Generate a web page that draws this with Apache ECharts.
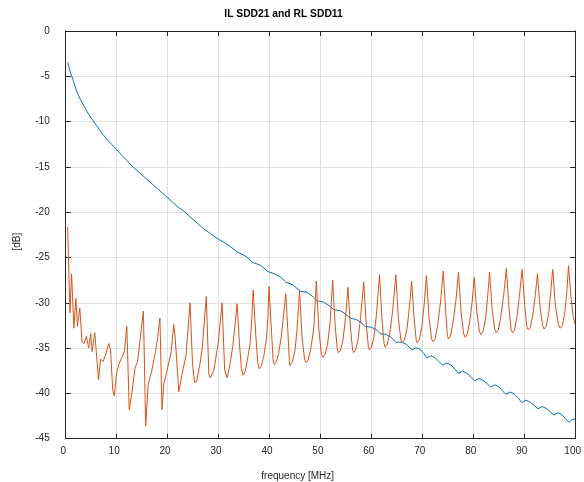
<!DOCTYPE html>
<html>
<head>
<meta charset="utf-8">
<script src="https://cdn.jsdelivr.net/npm/echarts@6/dist/echarts.min.js"></script>
<style>
html,body{margin:0;padding:0;background:#fff;}
#chart{width:584px;height:482px;}
</style>
</head>
<body>
<div id="chart"></div>
<script>
var chartTitle = 'IL SDD21 and RL SDD11';
var xAxisName = 'frequency [MHz]';
var yAxisName = '[dB]';
var xTicks = [0, 10, 20, 30, 40, 50, 60, 70, 80, 90, 100];
var yTicks = [0, -5, -10, -15, -20, -25, -30, -35, -40, -45];

// IL SDD21 (blue)
var ilFreq = [0.4,0.6,0.8,1.0,1.2,1.5,2.0,2.5,3.0,3.5,4.0,4.5,5.0,6.0,7.0,8.0,9.0,10,11,12,13,14,15,16,17,18,19,20,21,22,23,24,25,26,27,28,29,30,
  31.0,31.85,33.79,34.43,35.4,36.7,38.3,39.6,40.9,42.2,43.2,44.5,46.1,47.4,48.7,49.3,50.6,51.9,52.6,53.9,54.8,55.8,57.1,58.1,58.7,60.0,61.0,61.7,62.9,63.9,64.8,65.8,66.8,
  68.0,68.8,69.6,70.3,70.9,71.7,72.5,73.3,74.0,74.8,75.6,76.4,77.1,77.9,78.7,79.5,80.3,81.1,81.9,82.7,83.4,84.2,85.0,85.7,86.4,87.2,88.0,88.8,89.5,90.3,91.1,91.9,92.7,93.5,94.3,95.1,95.8,96.6,97.4,98.1,98.8,99.4,100];
var ilDb = [-3.45,-3.9,-4.3,-4.7,-5.0,-5.5,-6.4,-7.1,-7.7,-8.2,-8.7,-9.2,-9.6,-10.4,-11.2,-11.9,-12.5,-13.1,-13.7,-14.3,-14.9,-15.4,-15.9,-16.4,-16.9,-17.4,-17.9,-18.4,-18.9,-19.4,-19.8,-20.3,-20.8,-21.3,-21.8,-22.2,-22.6,-23.0,
  -23.3,-23.59,-24.44,-24.59,-24.88,-25.54,-25.87,-26.53,-26.79,-27.16,-27.71,-28.0,-28.74,-28.85,-29.4,-29.77,-29.92,-30.4,-30.76,-30.87,-31.2,-31.68,-31.86,-32.23,-32.6,-32.7,-32.97,-33.4,-33.5,-33.8,-34.37,-34.33,-34.55,
  -35.2,-34.95,-35.15,-35.6,-36.1,-35.85,-36.05,-36.5,-36.9,-36.65,-36.85,-37.3,-37.8,-37.55,-37.75,-38.2,-38.6,-38.35,-38.55,-38.9,-39.3,-39.05,-39.25,-39.7,-40.1,-39.85,-40.05,-40.5,-41.0,-40.75,-40.95,-41.3,-41.7,-41.45,-41.65,-42.0,-42.4,-42.15,-42.35,-42.8,-43.2,-42.9,-42.8];

// RL SDD11 (orange)
var rlFreq = [0.38,0.83,1.16,1.6,2.0,2.3,2.77,3.2,3.6,4.07,4.5,4.9,5.2,5.7,6.0,6.45,6.85,7.3,7.75,8.1,8.45,8.8,9.23,9.55,10.0,10.5,10.8,11.5,12.0,12.47,13.0,13.6,14.1,14.4,15.25,15.7,16.2,16.85,17.6,17.95,18.5,18.9,19.25,19.8,20.1,20.7,21.2,21.5,22.2,22.5,23.0,23.6,24.4,24.9,25.3,25.7,26.4,26.8,27.6,28.1,28.4,29.1,29.9,30.7,31.2,31.7,32.3,32.8,33.65,
  34.1,34.5,34.8,35.2,35.7,36.2,36.5,36.8,37.3,37.7,38.0,38.4,38.9,39.4,39.7,39.9,40.4,40.7,40.9,41.3,41.8,42.3,42.8,43.2,43.6,43.9,44.0,44.5,45.0,45.4,45.9,46.4,46.9,47.2,47.6,48.1,48.7,49.2,49.7,50.2,50.5,50.9,51.4,51.9,52.4,52.9,53.3,53.5,53.9,54.4,54.9,55.4,55.9,56.3,56.5,56.9,57.4,57.9,58.5,59.0,59.4,59.6,60.0,60.5,61.0,61.6,62.1,62.5,62.7,63.1,63.6,64.2,64.8,
  65.3,65.8,66.1,66.5,67.0,67.5,67.9,68.4,68.8,69.0,69.4,69.9,70.4,70.8,71.3,71.8,72.1,72.5,73.0,73.6,74.1,74.6,74.9,75.1,75.5,76.0,76.6,77.1,77.6,78.1,78.4,78.8,79.3,79.8,80.2,80.7,81.2,81.5,81.9,82.4,82.8,83.2,83.7,84.2,84.5,84.9,85.4,86.0,86.5,87.0,87.4,87.7,88.1,88.6,89.1,89.6,90.1,90.5,90.8,91.2,91.7,92.2,92.6,93.1,93.6,93.9,94.3,94.8,95.2,95.6,96.1,96.7,97.1,97.5,98.0,98.4,98.7,99.2,99.6,100];
var rlDb = [-21.6,-31.1,-26.8,-32.8,-29.5,-32.6,-30.6,-34.3,-34.5,-33.7,-35.0,-33.4,-35.4,-33.3,-33.2,-38.5,-36.2,-36.5,-35.9,-35.7,-34.5,-35.2,-39.6,-40.3,-37.7,-36.7,-36.8,-35.4,-32.6,-41.8,-39.9,-37.2,-36.5,-36.5,-30.9,-43.6,-39.0,-37.6,-35.5,-34.3,-31.7,-41.8,-39.0,-37.7,-37.5,-35.4,-32.4,-33.9,-39.8,-39.6,-37.4,-35.9,-30.0,-36.8,-38.8,-38.7,-36.6,-35.0,-29.3,-37.9,-38.3,-37.4,-34.6,-30.0,-37.4,-38.3,-36.6,-34.8,-30.1,
  -34.5,-37.3,-38.0,-37.6,-36.2,-34.5,-32.0,-28.6,-33.5,-36.6,-37.3,-37.0,-35.8,-34.0,-31.5,-28.2,-33.2,-36.2,-36.8,-36.6,-35.6,-33.8,-31.2,-29.0,-33.0,-36.4,-36.9,-36.5,-35.3,-33.0,-28.7,-33.8,-36.3,-36.6,-36.3,-35.1,-32.8,-27.6,-33.0,-35.7,-36.0,-35.7,-34.6,-32.2,-27.5,-32.6,-35.1,-35.5,-35.3,-34.2,-31.8,-28.3,-32.8,-35.1,-35.5,-35.2,-34.0,-31.5,-27.7,-32.4,-34.8,-35.2,-34.9,-33.8,-31.3,-26.9,-32.0,-34.5,-34.9,-34.6,-33.4,-30.8,-26.9,
  -31.8,-34.1,-34.4,-34.1,-32.8,-30.3,-27.6,-31.8,-34.1,-34.4,-34.1,-32.7,-30.0,-27.0,-31.5,-34.0,-34.3,-34.0,-32.5,-29.8,-26.5,-31.0,-33.5,-34.0,-33.7,-32.3,-29.7,-26.6,-31.0,-33.4,-33.8,-33.5,-32.1,-29.8,-27.2,-31.0,-33.2,-33.5,-33.2,-31.8,-29.5,-26.6,-30.7,-32.9,-33.3,-33.0,-31.6,-29.0,-26.2,-30.5,-32.9,-33.3,-33.0,-31.5,-29.0,-26.3,-30.3,-32.6,-33.0,-32.7,-31.3,-29.0,-26.8,-30.4,-32.5,-32.9,-32.6,-31.2,-28.8,-26.3,-30.2,-32.4,-32.8,-32.5,-31.0,-28.5,-25.9,-29.5,-31.5,-32.4];

function zip(a, b) { var out = []; for (var i = 0; i < a.length; i++) out.push([a[i], b[i]]); return out; }

var axisColor = '#262626';
var font = '"Liberation Sans", Arial, sans-serif';
function baseX(pos, labels) {
  return {
    type: 'value', position: pos, min: xTicks[0], max: xTicks[xTicks.length - 1], interval: xTicks[1] - xTicks[0],
    axisLine: { show: true, onZero: false, lineStyle: { color: axisColor, width: 1 } },
    axisTick: { show: true, inside: true, length: 5, lineStyle: { color: axisColor } },
    axisLabel: { show: labels, color: axisColor, fontSize: 10, fontFamily: font, margin: 8, padding: [0, 5, 0, 0] },
    splitLine: { show: labels, lineStyle: { color: '#e2e2e2', width: 1 } }
  };
}
function baseY(pos, labels) {
  return {
    type: 'value', position: pos, min: yTicks[yTicks.length - 1], max: yTicks[0], interval: yTicks[0] - yTicks[1],
    axisLine: { show: true, onZero: false, lineStyle: { color: axisColor, width: 1 } },
    axisTick: { show: true, inside: true, length: 5, lineStyle: { color: axisColor } },
    axisLabel: { show: labels, color: axisColor, fontSize: 10, fontFamily: font, margin: 16, padding: [0, 0, 8, 0] },
    splitLine: { show: labels, lineStyle: { color: '#e2e2e2', width: 1 } }
  };
}

var chart = echarts.init(document.getElementById('chart'), null, { renderer: 'canvas' });
chart.setOption({
  animation: false,
  backgroundColor: '#ffffff',
  grid: { left: 65.7, right: 2.5, top: 31, bottom: 43.3, containLabel: false },
  xAxis: [baseX('bottom', true), baseX('top', false)],
  yAxis: [baseY('left', true), baseY('right', false)],
  graphic: [
    { type: 'text', x: 283.5, y: 14, style: { text: chartTitle, fontSize: 10.3, fontWeight: 'bold', fontFamily: font, fill: '#000000', align: 'center', verticalAlign: 'middle' } },
    { type: 'text', x: 297.7, y: 476.7, style: { text: xAxisName, fontSize: 10, fontFamily: font, fill: axisColor, align: 'center', verticalAlign: 'middle' } },
    { type: 'text', x: 17.3, y: 241.7, rotation: Math.PI / 2, style: { text: yAxisName, fontSize: 10, fontFamily: font, fill: axisColor, align: 'center', verticalAlign: 'middle' } }
  ],
  series: [
    { name: 'IL SDD21', type: 'line', xAxisIndex: 0, yAxisIndex: 0, data: zip(ilFreq, ilDb), showSymbol: false, smooth: false,
      lineStyle: { color: '#0072BD', width: 1 }, itemStyle: { color: '#0072BD' }, z: 2 },
    { name: 'RL SDD11', type: 'line', xAxisIndex: 0, yAxisIndex: 0, data: zip(rlFreq, rlDb), showSymbol: false, smooth: false,
      lineStyle: { color: '#D95319', width: 1 }, itemStyle: { color: '#D95319' }, z: 3 }
  ]
});
</script>
</body>
</html>
